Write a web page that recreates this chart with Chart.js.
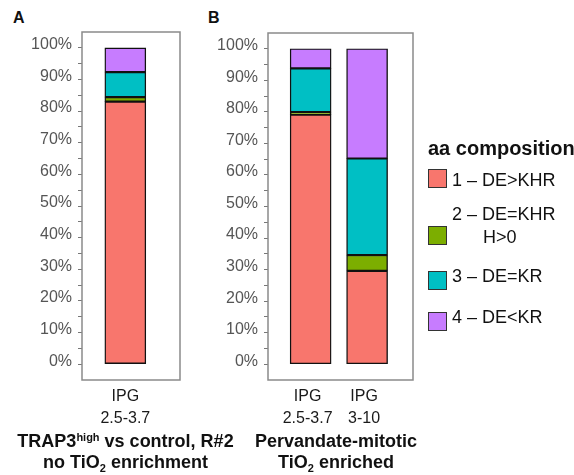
<!DOCTYPE html>
<html><head><meta charset="utf-8">
<script src="https://cdn.jsdelivr.net/npm/chart.js@4"></script>
<style>
body{margin:0;width:574px;height:475px;position:relative;background:#fff;font-family:"Liberation Sans",Arial,sans-serif;overflow:hidden;color:#111}
.abs{position:absolute}
.letter{font-weight:bold;font-size:16px;line-height:18px}
.ttl{font-weight:bold;font-size:18px;line-height:21px;text-align:center;white-space:nowrap}
.ttl sup{font-size:11px;vertical-align:6px;line-height:0}
.ttl sub{font-size:11px;vertical-align:-4px;line-height:0}
.lg{font-size:18px;line-height:23px;white-space:nowrap;color:#111}
.sq{width:17px;height:17px;border:1px solid #333;box-sizing:content-box}
</style></head><body>
<div class="abs letter" style="left:13px;top:9px">A</div>
<div class="abs letter" style="left:208px;top:9px">B</div>
<div class="abs" style="left:0;top:0;width:200px;height:440px"><canvas id="cA" width="200" height="440"></canvas></div>
<div class="abs" style="left:190px;top:0;width:240px;height:440px"><canvas id="cB" width="240" height="440"></canvas></div>
<div class="abs ttl" style="left:0;width:251px;top:431px">TRAP3<sup>high</sup> vs control, R#2<br>no TiO<sub>2</sub> enrichment</div>
<div class="abs ttl" style="left:236px;width:200px;top:431px">Pervandate-mitotic<br>TiO<sub>2</sub> enriched</div>
<div id="legend"></div>
<script>
// ---- data ----
const seriesNames = ['1 – DE>KHR', '2 – DE=KHR', '3 – DE=KR', '4 – DE<KR'];
const seriesSubNames = ['', 'H>0', '', ''];
const seriesColors = ['#F8766D', '#7CAE00', '#00BFC4', '#C77CFF'];
const legendTitle = 'aa composition';

const panelACategories = [['IPG', '2.5-3.7']];
const panelARed = [83.0];
const panelAGreen = [1.4];
const panelACyan = [7.9];
const panelAPurple = [7.7];

const panelBCategories = [['IPG', '2.5-3.7'], ['IPG', '3-10']];
const panelBRed = [79.1, 29.6];
const panelBGreen = [0.8, 5.0];
const panelBCyan = [13.9, 30.6];
const panelBPurple = [6.2, 34.8];

const yTickValues = [0, 5, 10, 15, 20, 25, 30, 35, 40, 45, 50, 55, 60, 65, 70, 75, 80, 85, 90, 95, 100];

// ---- helpers ----
const boxPlugin = {
  id: 'box',
  afterDraw(chart) {
    const a = chart.chartArea, ctx = chart.ctx;
    ctx.save();
    ctx.strokeStyle = '#8a8a8a';
    ctx.lineWidth = 1.5;
    ctx.strokeRect(a.left, a.top, a.right - a.left, a.bottom - a.top);
    ctx.restore();
  }
};

function makeChart(id, cats, series, opts) {
  const datasets = series.map((vals, si) => ({
    label: seriesNames[si],
    data: vals.map((v, i) => ({x: i, y: v})),
    backgroundColor: seriesColors[si],
    borderColor: '#111',
    borderWidth: 1.4,
    borderSkipped: false,
    barThickness: 41
  }));
  return new Chart(document.getElementById(id), {
    type: 'bar',
    data: {datasets},
    plugins: [boxPlugin],
    options: {
      responsive: false,
      animation: false,
      layout: {padding: {left: 0, top: opts.top, right: opts.right, bottom: 0}},
      plugins: {legend: {display: false}, tooltip: {enabled: false}},
      scales: {
        x: {
          type: 'linear', stacked: true, min: opts.xmin, max: opts.xmax, offset: false,
          afterBuildTicks: s => { s.ticks = cats.map((c, i) => ({value: i})); },
          afterFit: s => { s.height = 60; },
          grid: {display: false, drawTicks: false, offset: false},
          border: {display: false},
          ticks: {
            autoSkip: false, maxRotation: 0, padding: 5, labelOffset: opts.labelOffset,
            color: '#1a1a1a', font: {family: '"Liberation Sans", Arial, sans-serif', size: 16, lineHeight: 1.4},
            callback: v => cats[v] || ''
          }
        },
        y: {
          stacked: true, min: -5, max: 105,
          afterBuildTicks: s => { s.ticks = yTickValues.map(v => ({value: v})); },
          afterFit: s => { s.width = opts.axisW; },
          grid: {drawOnChartArea: false, drawTicks: true, tickLength: 4, color: '#777', lineWidth: 1},
          border: {display: false},
          ticks: {
            autoSkip: false, padding: 6, labelOffset: -3,
            color: '#555', font: {family: '"Liberation Sans", Arial, sans-serif', size: 16},
            callback: v => (v % 10 === 0 ? v + '%' : '')
          }
        }
      }
    }
  });
}

makeChart('cA', panelACategories, [panelARed, panelAGreen, panelACyan, panelAPurple],
  {top: 32, right: 20, axisW: 82, xmin: -0.442, xmax: 0.558, labelOffset: 0});
makeChart('cB', panelBCategories, [panelBRed, panelBGreen, panelBCyan, panelBPurple],
  {top: 33, right: 17, axisW: 78, xmin: -0.755, xmax: 1.813, labelOffset: -3});

// ---- legend ----
const lg = document.getElementById('legend');
const sqTops = [169, 226, 271, 312];
const txtTops = [169, 203, 265, 306];
const t = document.createElement('div');
t.className = 'abs';
t.style.cssText = 'left:428px;top:137px;font-weight:bold;font-size:20px;line-height:22px;white-space:nowrap;color:#111';
t.textContent = legendTitle;
lg.appendChild(t);
seriesNames.forEach((n, i) => {
  const s = document.createElement('div');
  s.className = 'abs sq';
  s.style.left = '428px'; s.style.top = sqTops[i] + 'px'; s.style.background = seriesColors[i];
  lg.appendChild(s);
  const d = document.createElement('div');
  d.className = 'abs lg';
  d.style.left = '452px'; d.style.top = txtTops[i] + 'px';
  d.textContent = n;
  if (seriesSubNames[i]) {
    const sub = document.createElement('div');
    sub.style.paddingLeft = '31px';
    sub.textContent = seriesSubNames[i];
    d.appendChild(sub);
  }
  lg.appendChild(d);
});
</script>
</body></html>
